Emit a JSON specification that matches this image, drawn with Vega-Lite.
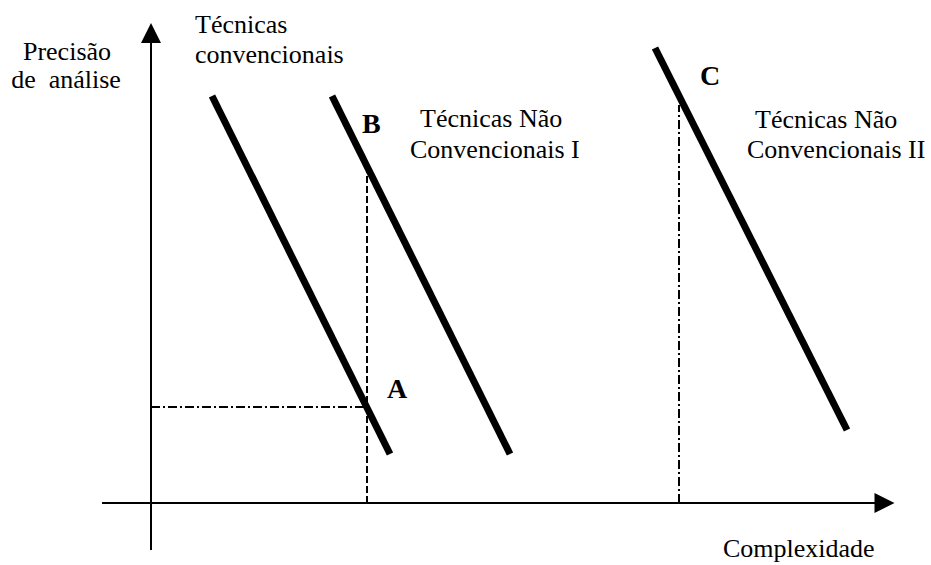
{
  "$schema": "https://vega.github.io/schema/vega-lite/v6.json",
  "width": 931,
  "height": 565,
  "autosize": {"type": "fit", "contains": "padding"},
  "padding": 0,
  "background": "white",
  "view": {"stroke": null},
  "datasets": {
    "axes": [
      {"name": "y", "x": 0, "y": -47, "x2": 0, "y2": 462},
      {"name": "x", "x": -49, "y": 0, "x2": 725, "y2": 0}
    ],
    "arrows": [
      {"name": "y", "x": 0, "y": 470, "shape": "M0,-1L1,1L-1,1Z"},
      {"name": "x", "x": 733.5, "y": 0, "shape": "M1,0L-1,-1L-1,1Z"}
    ],
    "thick": [
      {"name": "Técnicas convencionais", "x": 61, "y": 407, "x2": 239, "y2": 49},
      {"name": "Técnicas Não Convencionais I", "x": 181, "y": 407, "x2": 359, "y2": 49},
      {"name": "Técnicas Não Convencionais II", "x": 504, "y": 455, "x2": 696, "y2": 73}
    ],
    "dashed": [
      {"name": "B", "x": 216, "y": 0, "x2": 216, "y2": 331}
    ],
    "dashdot": [
      {"name": "A", "x": 0, "y": 96, "x2": 214, "y2": 96},
      {"name": "C", "x": 528, "y": 0, "x2": 528, "y2": 398}
    ],
    "labelsLeft": [
      {"text": "Técnicas", "x": 44, "y": 470},
      {"text": "convencionais", "x": 44, "y": 440},
      {"text": "Técnicas Não", "x": 269, "y": 376},
      {"text": "Convencionais I", "x": 259, "y": 345},
      {"text": "Técnicas Não", "x": 604, "y": 375},
      {"text": "Convencionais II", "x": 596, "y": 345},
      {"text": "Complexidade", "x": 572, "y": -54}
    ],
    "labelsCenter": [
      {"text": "Precisão", "x": -84, "y": 443},
      {"text": "de\u00a0 análise", "x": -85, "y": 415}
    ],
    "points": [
      {"text": "A", "x": 236, "y": 105},
      {"text": "B", "x": 211, "y": 370},
      {"text": "C", "x": 549, "y": 418}
    ]
  },
  "layer": [
    {
      "data": {"name": "axes"},
      "mark": {"type": "rule", "strokeWidth": 2, "color": "black"},
      "encoding": {
        "x": {"field": "x", "type": "quantitative", "scale": {"domain": [-151, 780], "nice": false, "zero": false}, "axis": null},
        "y": {"field": "y", "type": "quantitative", "scale": {"domain": [-62, 503], "nice": false, "zero": false}, "axis": null},
        "x2": {"field": "x2"},
        "y2": {"field": "y2"}
      }
    },
    {
      "data": {"name": "arrows"},
      "mark": {"type": "point", "filled": true, "color": "black", "size": 400, "opacity": 1, "strokeWidth": 0},
      "encoding": {
        "x": {"field": "x", "type": "quantitative"},
        "y": {"field": "y", "type": "quantitative"},
        "shape": {"field": "shape", "type": "nominal", "scale": null}
      }
    },
    {
      "data": {"name": "thick"},
      "mark": {"type": "rule", "strokeWidth": 7, "color": "black", "strokeCap": "butt"},
      "encoding": {
        "x": {"field": "x", "type": "quantitative"},
        "y": {"field": "y", "type": "quantitative"},
        "x2": {"field": "x2"},
        "y2": {"field": "y2"}
      }
    },
    {
      "data": {"name": "dashed"},
      "mark": {"type": "rule", "strokeWidth": 2, "color": "black", "strokeDash": [7, 3]},
      "encoding": {
        "x": {"field": "x", "type": "quantitative"},
        "y": {"field": "y", "type": "quantitative"},
        "x2": {"field": "x2"},
        "y2": {"field": "y2"}
      }
    },
    {
      "data": {"name": "dashdot"},
      "mark": {"type": "rule", "strokeWidth": 2, "color": "black", "strokeDash": [9, 3, 2, 3]},
      "encoding": {
        "x": {"field": "x", "type": "quantitative"},
        "y": {"field": "y", "type": "quantitative"},
        "x2": {"field": "x2"},
        "y2": {"field": "y2"}
      }
    },
    {
      "data": {"name": "labelsLeft"},
      "mark": {"type": "text", "font": "Liberation Serif", "color": "black", "fontSize": 26, "align": "left", "baseline": "alphabetic"},
      "encoding": {
        "x": {"field": "x", "type": "quantitative"},
        "y": {"field": "y", "type": "quantitative"},
        "text": {"field": "text"}
      }
    },
    {
      "data": {"name": "labelsCenter"},
      "mark": {"type": "text", "font": "Liberation Serif", "color": "black", "fontSize": 26, "align": "center", "baseline": "alphabetic"},
      "encoding": {
        "x": {"field": "x", "type": "quantitative"},
        "y": {"field": "y", "type": "quantitative"},
        "text": {"field": "text"}
      }
    },
    {
      "data": {"name": "points"},
      "mark": {"type": "text", "font": "Liberation Serif", "color": "black", "fontSize": 28, "fontWeight": "bold", "align": "left", "baseline": "alphabetic"},
      "encoding": {
        "x": {"field": "x", "type": "quantitative"},
        "y": {"field": "y", "type": "quantitative"},
        "text": {"field": "text"}
      }
    }
  ]
}
